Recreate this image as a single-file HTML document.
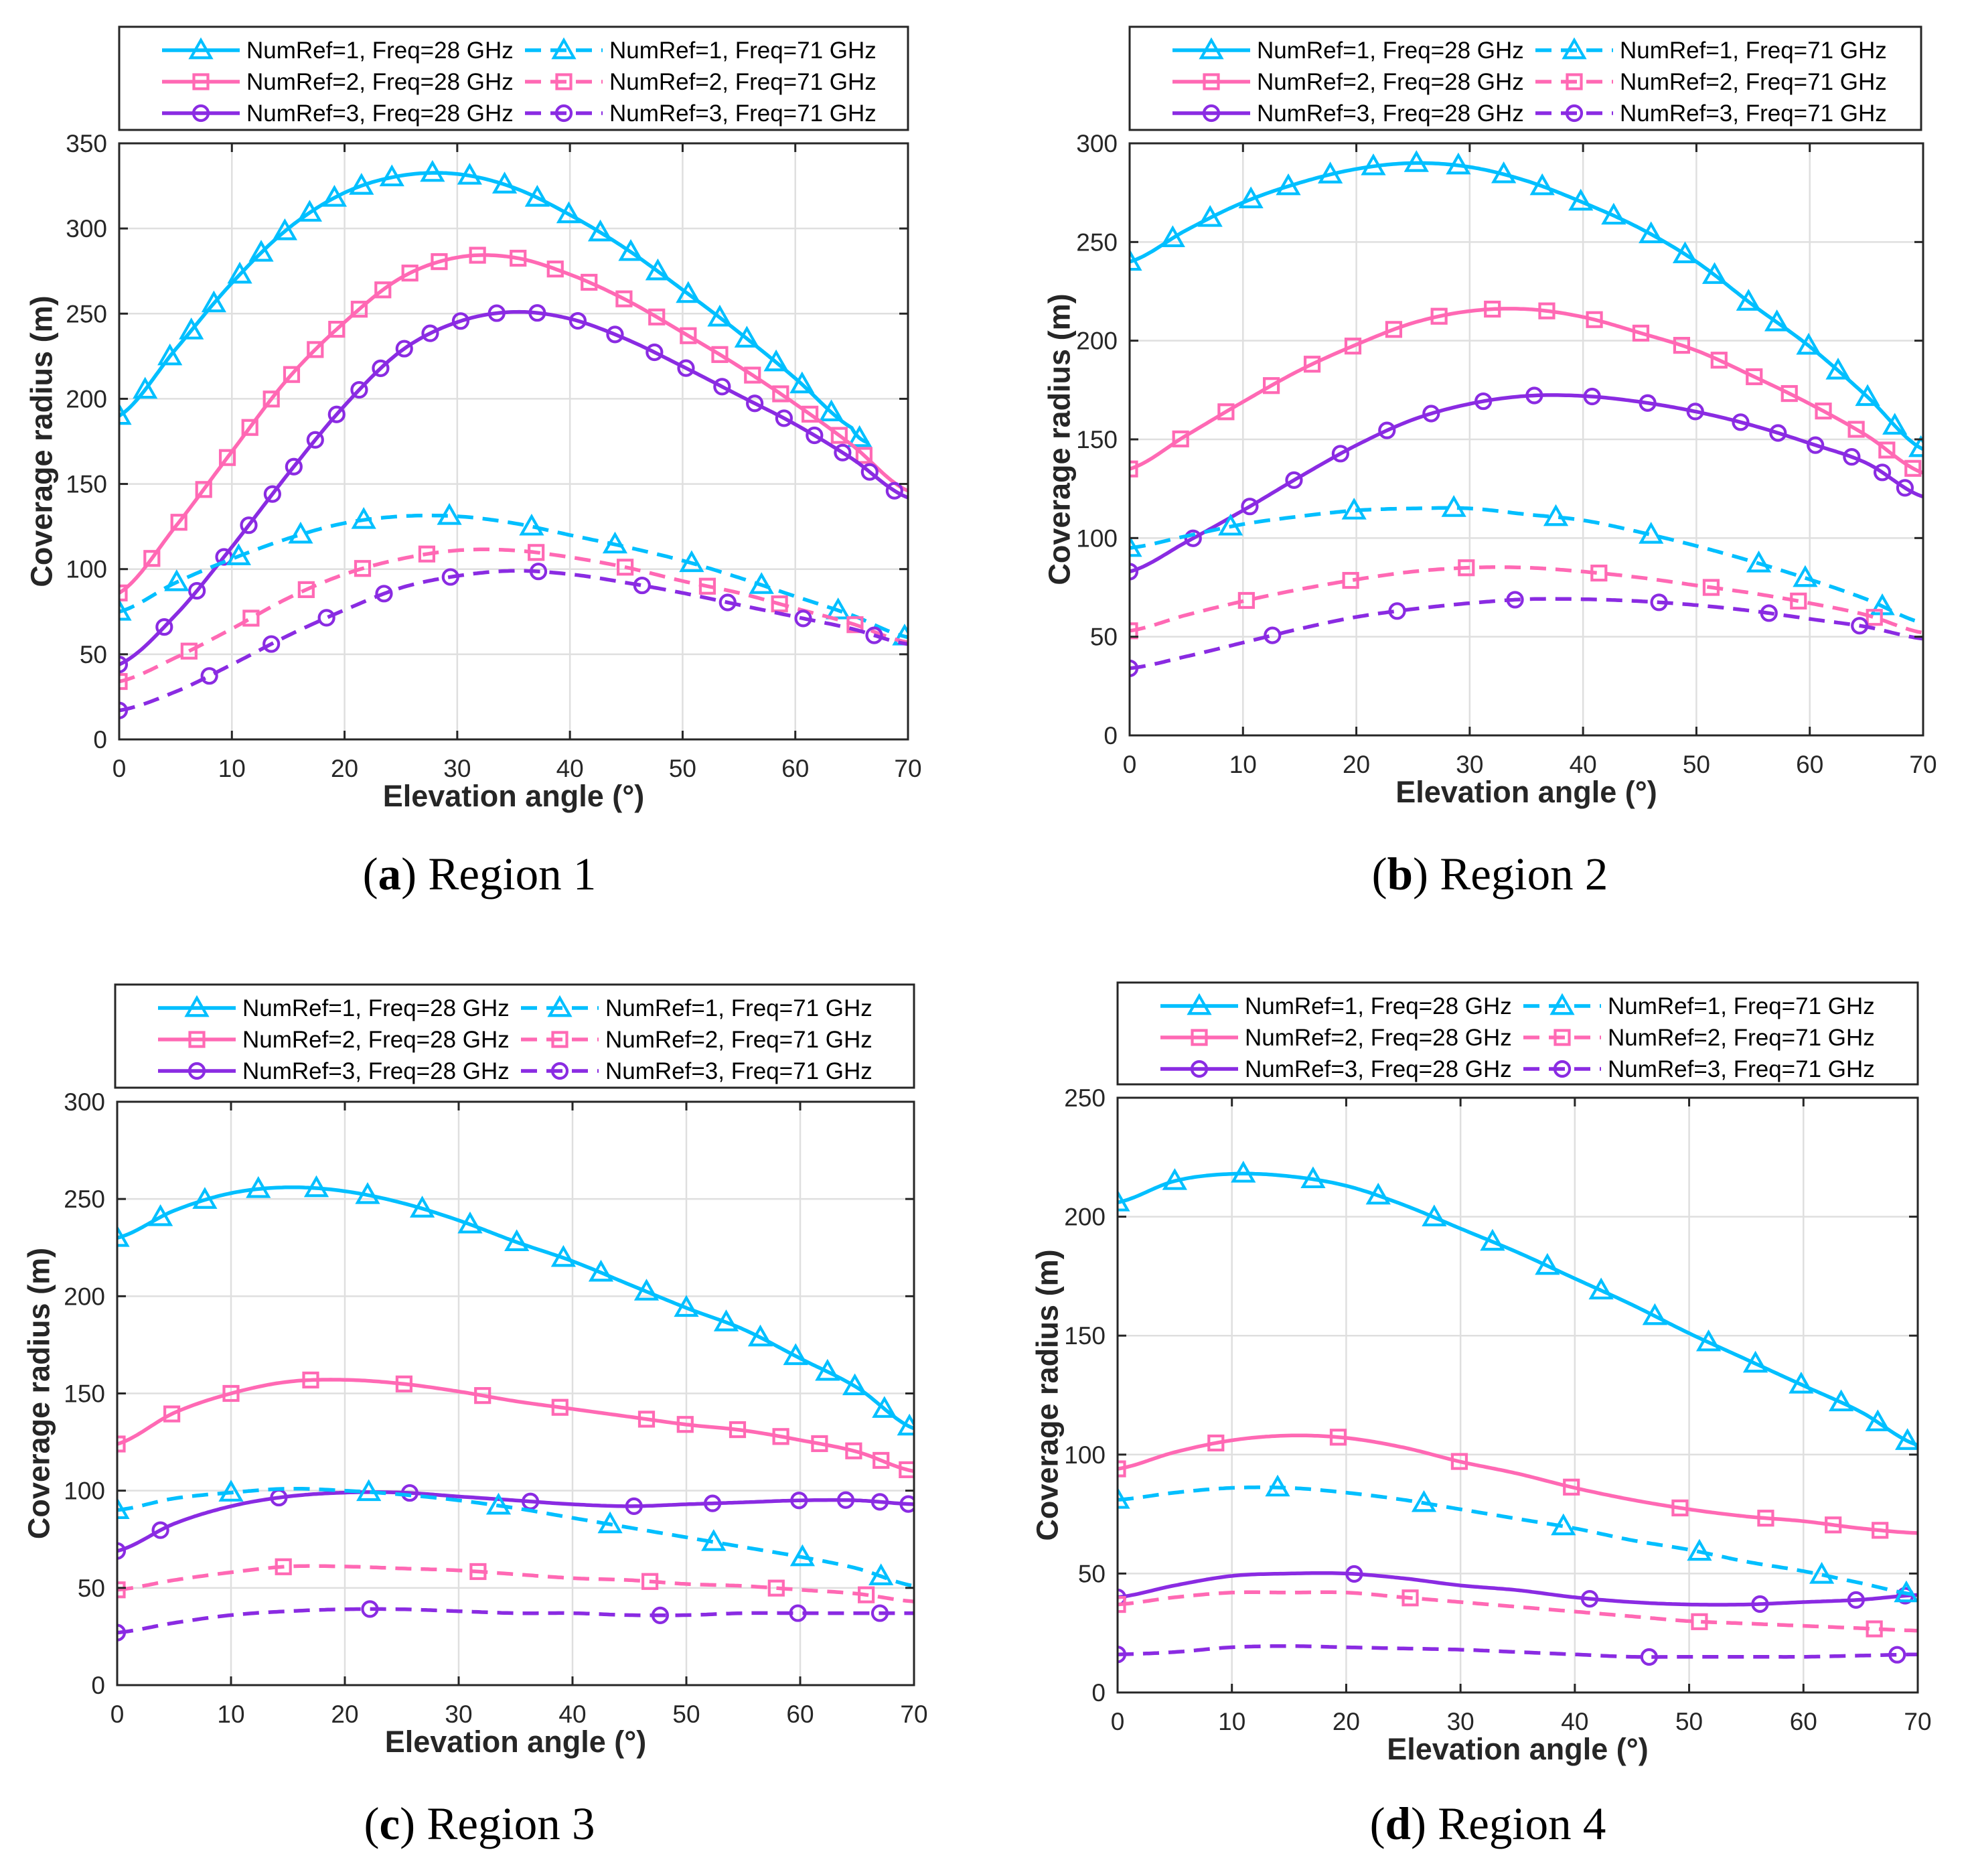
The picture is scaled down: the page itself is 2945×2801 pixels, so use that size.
<!DOCTYPE html>
<html><head><meta charset="utf-8"><title>Coverage radius vs elevation angle</title>
<style>
html,body{margin:0;padding:0;background:#fff;}
svg{display:block;}
text{font-family:"Liberation Sans",Arial,sans-serif;fill:#262626;}
.cap{font-family:"Liberation Serif","Times New Roman",serif;fill:#000;}
</style></head>
<body>
<svg id="fig" xmlns="http://www.w3.org/2000/svg" width="2945" height="2801" viewBox="0 0 2945 2801">
<rect width="2945" height="2801" fill="#fff"/>
</svg>
<script>
// ---- shared data ----
const angles = [0,5,10,15,20,25,30,35,40,45,50,55,60,65,70];
const xTicks = [0,10,20,30,40,50,60,70];
const seriesNames = ["NumRef=1, Freq=28 GHz","NumRef=2, Freq=28 GHz","NumRef=3, Freq=28 GHz","NumRef=1, Freq=71 GHz","NumRef=2, Freq=71 GHz","NumRef=3, Freq=71 GHz"];

// ---- Region 1 ----
const r1Ticks = [0,50,100,150,200,250,300,350];
const r1AnglesShort = [0,5,10,15,20,25,30,35,40,45,50,55,60,65,66.5];
const r1_n1_28 = [190,229,268,300,321,331,332,324,308,288,264,239,212,183,174];
const r1_n2_28 = [86,125,169,212,245,271,283,283,273,258,239,219,197,173,146];
const r1_n3_28 = [44,73,113,156,196,228,245,251,247,235,219,202,185,165,142];
const r1_n1_71 = [75,92,106,118,127,131,131,127,120,113,105,95,84,73,60];
const r1_n2_71 = [34,48,65,83,97,106,111,111,107,101,93,86,77,68,57];
const r1_n3_71 = [17,28,44,61,76,89,96,99,97,92,86,79,72,65,56];
const r1_m1_28 = [0,2.3,4.5,6.4,8.4,10.7,12.6,14.7,16.9,19.1,21.5,24.2,27.8,31.1,34.2,37.1,39.9,42.7,45.4,47.8,50.5,53.3,55.7,58.3,60.6,63.2,65.7];
const r1_m2_28 = [0,2.9,5.3,7.5,9.6,11.6,13.5,15.3,17.4,19.3,21.3,23.4,25.8,28.4,31.8,35.4,38.7,41.7,44.8,47.7,50.5,53.3,56.2,58.7,61.3,63.9,66.1];
const r1_m3_28 = [0,4,6.9,9.3,11.5,13.6,15.5,17.4,19.3,21.3,23.2,25.3,27.6,30.3,33.5,37.1,40.7,44,47.5,50.3,53.5,56.4,59,61.7,64.2,66.6,68.8];
const r1_m1_71 = [0,5.1,10.6,16.1,21.7,29.3,36.6,44,50.8,57,63.8,69.7];
const r1_m2_71 = [0,6.2,11.7,16.6,21.6,27.3,37,44.9,52.2,58.6,65.3];
const r1_m3_71 = [0,8,13.5,18.4,23.5,29.4,37.2,46.4,54,60.7,67];

// ---- Region 2 ----
const r2Ticks = [0,50,100,150,200,250,300];
const r2_n1_28 = [240,256,270,280,287,290,288,281,270,257,240,218,197,172,145];
const r2_n2_28 = [135,152,169,185,198,209,215,216,212,204,195,182,168,152,133];
const r2_n3_28 = [83,98,114,131,147,160,168,172,172,169,164,157,148,138,121];
const r2_n1_71 = [95,101,107,111,114,115,115,112,109,103,96,88,79,69,57];
const r2_n2_71 = [53,61,68,74,79,83,85,85,83,80,76,72,67,61,52];
const r2_n3_71 = [34,40,47,54,60,64,67,69,69,68,66,63,59,55,49];
const r2_m1_28 = [0,3.8,7.1,10.7,14,17.7,21.5,25.3,29,33,36.4,39.8,42.7,46,49,51.6,54.6,57.1,59.9,62.5,65.1,67.5,69.8];
const r2_m2_28 = [0,4.5,8.5,12.5,16.1,19.7,23.3,27.3,32,36.8,41,45.1,48.7,52,55.1,58.2,61.2,64.1,66.8,69.1];
const r2_m3_28 = [0,5.6,10.6,14.5,18.6,22.7,26.6,31.2,35.7,40.8,45.7,49.9,53.9,57.2,60.5,63.7,66.4,68.4];
const r2_m1_71 = [0,8.9,19.8,28.6,37.6,46,55.5,59.6,66.4];
const r2_m2_71 = [0,10.3,19.5,29.7,41.4,51.3,59,65.7];
const r2_m3_71 = [0,12.6,23.6,34,46.7,56.4,64.4];

// ---- Region 3 ----
const r3Ticks = [0,50,100,150,200,250,300];
const r3_n1_28 = [230,244,253,256,254,248,239,228,218,206,194,183,168,153,132];
const r3_n2_28 = [124,140,150,156,157,155,151,146,142,138,134,131,126,120,110];
const r3_n3_28 = [69,83,92,97,99,99,97,95,93,92,93,94,95,95,93];
const r3_n1_71 = [90,96,99,101,100,98,95,91,86,81,76,71,66,60,51];
const r3_n2_71 = [49,54,58,61,61,60,59,57,55,54,52,51,49,47,43];
const r3_n3_71 = [27,32,36,38,39,39,38,37,37,36,36,37,37,37,37];
const r3_m1_28 = [0,3.8,7.7,12.4,17.5,22,26.8,31,35.1,39.2,42.5,46.5,50,53.5,56.5,59.6,62.4,64.8,67.4,69.6];
const r3_m2_28 = [0,4.8,10,17,25.2,32.1,38.9,46.5,49.9,54.5,58.3,61.7,64.7,67.1,69.4];
const r3_m3_28 = [0,3.8,14.2,25.7,36.3,45.4,52.3,59.9,64,67,69.5];
const r3_m1_71 = [0,10,22.1,33.5,43.3,52.4,60.2,67.1];
const r3_m2_71 = [0,14.6,31.7,46.8,57.9,65.8];
const r3_m3_71 = [0,22.2,47.7,59.8,67];

// ---- Region 4 ----
const r4Ticks = [0,50,100,150,200,250];
const r4_n1_28 = [206,215,218,217,213,205,195,185,174,163,151,140,129,118,104];
const r4_n2_28 = [94,101,106,108,107,103,97,92,86,81,77,74,72,69,67];
const r4_n3_28 = [40,45,49,50,50,48,45,43,40,38,37,37,38,39,41];
const r4_n1_71 = [81,84,86,86,84,81,77,73,69,64,60,55,51,46,41];
const r4_n2_71 = [37,40,42,42,42,40,38,36,34,32,30,29,28,27,26];
const r4_n3_71 = [16,17,19,19.5,19,18.5,18,17,16,15,15,15,15,15.5,16];
const r4_m1_28 = [0,5,11,17.1,22.8,27.7,32.8,37.6,42.3,47,51.7,55.8,59.8,63.3,66.5,69.1];
const r4_m2_28 = [0,8.6,19.3,29.9,39.7,49.2,56.7,62.6,66.7];
const r4_m3_28 = [0,20.7,41.3,56.2,64.6,68.9];
const r4_m1_71 = [0,14,26.8,39,50.9,61.6,69];
const r4_m2_71 = [0,25.6,50.9,66.2];
const r4_m3_71 = [0,46.5,68.2];

const CYAN="#00BFFF", PINK="#FF69B4", PURP="#8A2BE2";
const NS="http://www.w3.org/2000/svg";
const svg=document.getElementById('fig');
function mk(tag,attrs,parent){const e=document.createElementNS(NS,tag);for(const k in attrs)e.setAttribute(k,attrs[k]);(parent||svg).appendChild(e);return e;}

function crY(ys,i,t){const n=ys.length;const p0=ys[Math.max(i-1,0)],p1=ys[i],p2=ys[Math.min(i+1,n-1)],p3=ys[Math.min(i+2,n-1)];
 const t2=t*t,t3=t2*t;return 0.5*((2*p1)+(-p0+p2)*t+(2*p0-5*p1+4*p2-p3)*t2+(-p0+3*p1-3*p2+p3)*t3);}
function evalAt(xs,ys,x){let i=0;while(i<xs.length-2&&x>xs[i+1])i++;const t=(x-xs[i])/(xs[i+1]-xs[i]);return crY(ys,i,t);}

function marker(g,type,cx,cy,color){
 let el;
 if(type==='tri'){const s=15;el=mk('polygon',{points:`${cx},${cy-s} ${cx+s},${cy+s*0.75} ${cx-s},${cy+s*0.75}`,fill:'none',stroke:color,'stroke-width':4.2},g);}
 else if(type==='sq'){const s=10.5;el=mk('rect',{x:cx-s,y:cy-s,width:2*s,height:2*s,fill:'none',stroke:color,'stroke-width':4.2},g);}
 else {el=mk('circle',{cx:cx,cy:cy,r:11,fill:'none',stroke:color,'stroke-width':4.2},g);}
 
 
}

function panel(cfg){
 const {id,L,R,T,B,yMax,ticks,leg,series,cap,capX,capY,ylabX}=cfg;
 const g=mk('g',{});
 
 
 const sx=v=>L+(v/70)*(R-L), sy=v=>B-(v/yMax)*(B-T);
 const grid=mk('g',{},g);
 
 
 xTicks.forEach(v=>{if(v>0&&v<70)mk('line',{x1:sx(v),x2:sx(v),y1:T,y2:B,stroke:'#dfdfdf','stroke-width':2.5},grid);});
 ticks.forEach(v=>{if(v>0&&v<yMax)mk('line',{x1:L,x2:R,y1:sy(v),y2:sy(v),stroke:'#dfdfdf','stroke-width':2.5},grid);});
 const cp=mk('clipPath',{id:'clip'+id},g);mk('rect',{x:L,y:T,width:R-L,height:B-T},cp);
 const lines=mk('g',{'clip-path':`url(#clip${id})`},g);
 series.forEach(s=>{
  const xs=s.xs||angles;let d='';
  for(let i=0;i<xs.length-1;i++){for(let k=0;k<=20;k++){if(i>0&&k===0)continue;const t=k/20;const x=xs[i]+t*(xs[i+1]-xs[i]);const y=crY(s.ys,i,t);d+=(d?'L':'M')+sx(x).toFixed(1)+','+sy(y).toFixed(1);}}
  const p=mk('path',{d:d,fill:'none',stroke:s.c,'stroke-width':5.5,'stroke-linejoin':'round','stroke-dasharray':s.dash?'24 14':'none'},lines);
  
  
  const mg=mk('g',{},lines);
  
  
  s.mx.forEach(x=>marker(mg,s.m,sx(x),sy(evalAt(xs,s.ys,x)),s.c));
 });
 const ax=mk('g',{},g);
 
 
 mk('rect',{x:L,y:T,width:R-L,height:B-T,fill:'none',stroke:'#262626','stroke-width':3},ax);
 xTicks.forEach(v=>{
  mk('line',{x1:sx(v),x2:sx(v),y1:B,y2:B-13,stroke:'#262626','stroke-width':3},ax);
  mk('line',{x1:sx(v),x2:sx(v),y1:T,y2:T+13,stroke:'#262626','stroke-width':3},ax);
  const t=mk('text',{x:sx(v),y:B+56,'font-size':37,'text-anchor':'middle'},ax);t.textContent=v;
  
  
 });
 ticks.forEach(v=>{
  mk('line',{x1:L,x2:L+13,y1:sy(v),y2:sy(v),stroke:'#262626','stroke-width':3},ax);
  mk('line',{x1:R,x2:R-13,y1:sy(v),y2:sy(v),stroke:'#262626','stroke-width':3},ax);
  const t=mk('text',{x:L-18,y:sy(v)+13,'font-size':37,'text-anchor':'end'},ax);t.textContent=v;
  
  
 });
 const xl=mk('text',{x:(L+R)/2,y:B+100,'font-size':45,'font-weight':'bold','text-anchor':'middle'},g);xl.textContent='Elevation angle (°)';
 
 
 const yc=(T+B)/2;
 const yl=mk('text',{x:ylabX,y:yc,'font-size':45,'font-weight':'bold','text-anchor':'middle',transform:`rotate(-90 ${ylabX} ${yc})`,'dominant-baseline':'central'},g);yl.textContent='Coverage radius (m)';
 
 
 const lg=mk('g',{},g);
 
 
 mk('rect',{x:leg[0],y:leg[1],width:leg[2]-leg[0],height:leg[3]-leg[1],fill:'#fff',stroke:'#262626','stroke-width':3},lg);
 series.forEach((s,k)=>{
  const col=k<3?0:1,row=k%3;const ox=leg[0]+(col?606:64);const oy=leg[1]+35+row*47;
  const e=mk('g',{},lg);
  
  
  mk('line',{x1:ox,x2:ox+116,y1:oy,y2:oy,stroke:s.c,'stroke-width':5.5,'stroke-dasharray':s.dash?'24 14':'none'},e);
  marker(e,s.m,ox+58,oy,s.c);
  const t=mk('text',{x:ox+126,y:oy+12,'font-size':35,fill:'#000'},e);t.textContent=seriesNames[k];t.style.fill='#000';
 });
 const c=mk('text',{x:capX,y:capY,'font-size':69,'text-anchor':'middle',class:'cap'},g);
 
 
 const t1=mk('tspan',{},c);t1.textContent='(';
 const t2=mk('tspan',{'font-weight':'bold'},c);t2.textContent=cap[0];
 const t3=mk('tspan',{},c);t3.textContent=') '+cap[1];
}

function S(key,ys,mx,c,m,dash,xs){return {key,ys,mx,c,m,dash,xs};}

panel({id:'a',L:178,R:1356,T:214,B:1104,yMax:350,ticks:r1Ticks,leg:[178,40,1356,194],ylabX:62,cap:['a','Region 1'],capX:716,capY:1328,
 series:[S('n1-28',r1_n1_28,r1_m1_28,CYAN,'tri',false,r1AnglesShort),S('n2-28',r1_n2_28,r1_m2_28,PINK,'sq',false),S('n3-28',r1_n3_28,r1_m3_28,PURP,'circ',false),
 S('n1-71',r1_n1_71,r1_m1_71,CYAN,'tri',true),S('n2-71',r1_n2_71,r1_m2_71,PINK,'sq',true),S('n3-71',r1_n3_71,r1_m3_71,PURP,'circ',true)]});
panel({id:'b',L:1687,R:2872,T:214,B:1098,yMax:300,ticks:r2Ticks,leg:[1687,40,2869,194],ylabX:1582,cap:['b','Region 2'],capX:2225,capY:1328,
 series:[S('n1-28',r2_n1_28,r2_m1_28,CYAN,'tri',false),S('n2-28',r2_n2_28,r2_m2_28,PINK,'sq',false),S('n3-28',r2_n3_28,r2_m3_28,PURP,'circ',false),
 S('n1-71',r2_n1_71,r2_m1_71,CYAN,'tri',true),S('n2-71',r2_n2_71,r2_m2_71,PINK,'sq',true),S('n3-71',r2_n3_71,r2_m3_71,PURP,'circ',true)]});
panel({id:'c',L:175,R:1365,T:1645,B:2516,yMax:300,ticks:r3Ticks,leg:[172,1470,1365,1624],ylabX:58,cap:['c','Region 3'],capX:716,capY:2746,
 series:[S('n1-28',r3_n1_28,r3_m1_28,CYAN,'tri',false),S('n2-28',r3_n2_28,r3_m2_28,PINK,'sq',false),S('n3-28',r3_n3_28,r3_m3_28,PURP,'circ',false),
 S('n1-71',r3_n1_71,r3_m1_71,CYAN,'tri',true),S('n2-71',r3_n2_71,r3_m2_71,PINK,'sq',true),S('n3-71',r3_n3_71,r3_m3_71,PURP,'circ',true)]});
panel({id:'d',L:1669,R:2864,T:1639,B:2527,yMax:250,ticks:r4Ticks,leg:[1669,1467,2864,1619],ylabX:1564,cap:['d','Region 4'],capX:2222,capY:2746,
 series:[S('n1-28',r4_n1_28,r4_m1_28,CYAN,'tri',false),S('n2-28',r4_n2_28,r4_m2_28,PINK,'sq',false),S('n3-28',r4_n3_28,r4_m3_28,PURP,'circ',false),
 S('n1-71',r4_n1_71,r4_m1_71,CYAN,'tri',true),S('n2-71',r4_n2_71,r4_m2_71,PINK,'sq',true),S('n3-71',r4_n3_71,r4_m3_71,PURP,'circ',true)]});
</script>
</body></html>
